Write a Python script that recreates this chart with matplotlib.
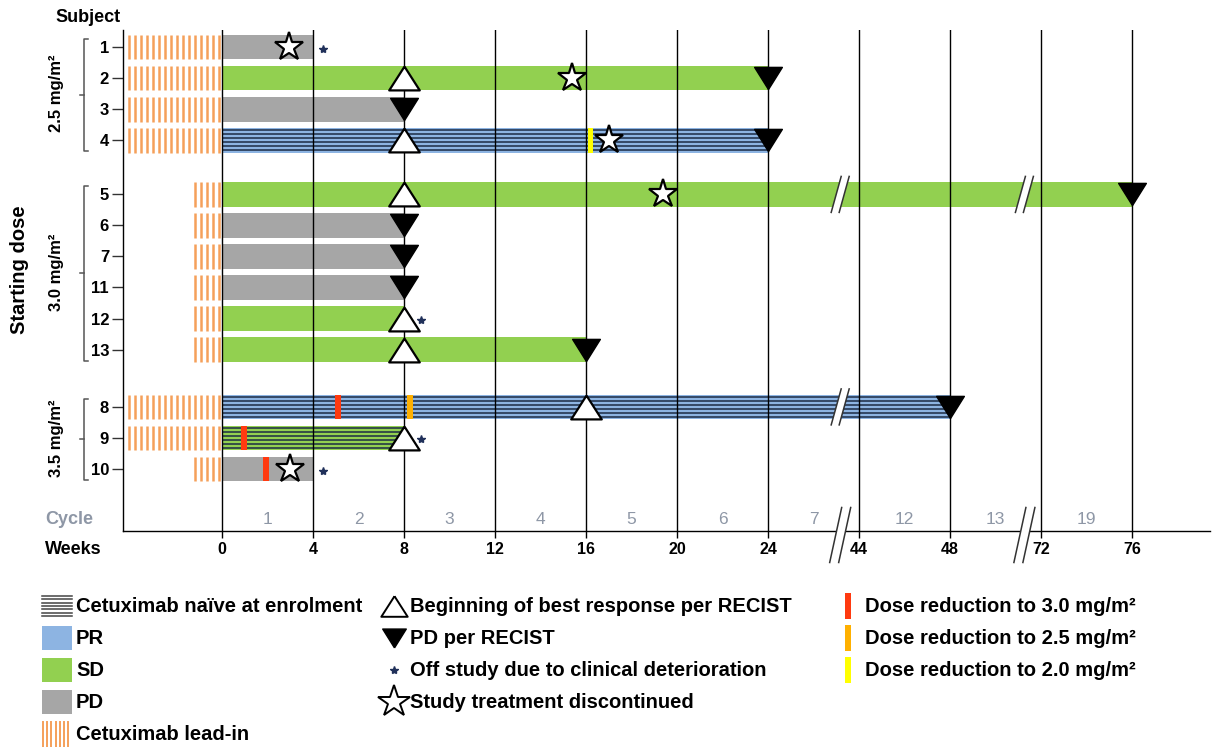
import numpy as np
import matplotlib
matplotlib.use('Agg')
import matplotlib.pyplot as plt
from matplotlib.patches import Polygon, Rectangle

plt.rcParams['font.family'] = ['Liberation Sans', 'DejaVu Sans']

# ---- data (weeks) ----
subjects = ['1', '2', '3', '4', '5', '6', '7', '11', '12', '13', '8', '9', '10']
rows = [0, 1, 2, 3, 4.75, 5.75, 6.75, 7.75, 8.75, 9.75, 11.6, 12.6, 13.6]
leadin_start = [-4.1, -4.1, -4.1, -4.1, -1.2, -1.2, -1.2, -1.2, -1.2, -1.2, -4.1, -4.1, -1.2]
bar_end = [4, 24, 8, 24, 76, 8, 8, 8, 8, 16, 48, 8, 4]
best_resp = ['PD', 'SD', 'PD', 'PR', 'SD', 'PD', 'PD', 'PD', 'SD', 'SD', 'PR', 'SD', 'PD']
naive = [0, 0, 0, 1, 0, 0, 0, 0, 0, 0, 1, 1, 0]
resp_start = [None, 8, None, 8, 8, None, None, None, 8, 8, 16, 8, None]
pd_week = [None, 24, 8, 24, 76, 8, 8, 8, None, 16, 48, None, None]
stop_week = [2.95, 15.4, None, 17.0, 19.4, None, None, None, None, None, None, None, 3.0]
off_study = [1, 0, 0, 0, 0, 0, 0, 0, 1, 0, 0, 1, 1]

dose_groups = ['2.5 mg/m²', '3.0 mg/m²', '3.5 mg/m²']
group_first = [0, 4, 10]
group_last = [3, 9, 12]

red_subject = ['4', '8', '8', '9', '10']
red_week = [16.2, 5.1, 8.26, 0.97, 1.93]
red_level = ['2.0', '3.0', '2.5', '3.0', '3.0']

week_ticks = [0, 4, 8, 12, 16, 20, 24, 44, 48, 72, 76]
cycle_labels = ['1', '2', '3', '4', '5', '6', '7', '12', '13', '19']
cycle_mid = [2, 6, 10, 14, 18, 22, 26, 46, 50, 74]
break_weeks = [35, 60]

resp_color = {'PR': '#8db4e2', 'SD': '#92d050', 'PD': '#a6a6a6'}
red_color = {'3.0': '#ff3a10', '2.5': '#ffb000', '2.0': '#ffff00'}
lead_color = '#f5a05a'
stripe_color = '#1c2b45'
cycle_color = '#8e97a6'

# broken time axis: 0-24 linear, gap, 44-48, gap, 72-76
kw = [-100, 27.15, 43.2, 51.25, 71.3, 200]
kd = [-100, 27.15, 27.2, 35.25, 35.3, 35.3 + 128.7]
fwd = lambda w: np.interp(w, kw, kd)
inv = lambda d: np.interp(d, kd, kw)

W, H = 1222, 747
fig = plt.figure(figsize=(W / 100, H / 100), dpi=100)
ax = fig.add_axes([123 / W, 1 - 531 / H, (1210 - 123) / W, (531 - 30) / H])
ax.set_xscale('function', functions=(fwd, inv))
ax.set_xlim(-4.35, 79.43)
ax.set_ylim(15.6, -0.55)

bh = 0.8
for i, r in enumerate(rows):
    # lead-in stripes
    xs = np.arange(-0.12, leadin_start[i], -0.264)
    ax.vlines(xs, r - bh / 2, r + bh / 2, color=lead_color, lw=1.8, zorder=2)
    ax.barh(r, bar_end[i], left=0, height=bh, color=resp_color[best_resp[i]],
            edgecolor='none', zorder=2)
    if naive[i]:
        for off in np.linspace(-0.33, 0.33, 6):
            ax.plot([0, bar_end[i]], [r + off, r + off], color=stripe_color,
                    lw=1.1, zorder=2.2, solid_capstyle='butt')

for s, w, lv in zip(red_subject, red_week, red_level):
    r = rows[subjects.index(s)]
    ax.barh(r, 0.24, left=w - 0.12, height=bh, color=red_color[lv], zorder=2.5)

for w in week_ticks:
    ax.axvline(w, color='black', lw=1, zorder=3)

tri_up = [(0, 0.78), (-1, -0.78), (1, -0.78), (0, 0.78)]
tri_dn = [(0, -0.8), (-1, 0.8), (1, 0.8), (0, -0.8)]
for i, r in enumerate(rows):
    if resp_start[i] is not None:
        ax.plot(resp_start[i], r, marker=tri_up, ms=22, mfc='white', mec='black',
                mew=1.6, zorder=5)
    if pd_week[i] is not None:
        ax.plot(pd_week[i], r, marker=tri_dn, ms=20, mfc='black', mec='black',
                mew=1, zorder=5)
    if stop_week[i] is not None:
        ax.plot(stop_week[i], r, marker='*', ms=21, mfc='white', mec='black',
                mew=1.6, zorder=6)
    if off_study[i]:
        off = 0.75 if resp_start[i] == bar_end[i] else 0.45
        ax.plot(bar_end[i] + off, r + 0.05, marker='*', ms=6, color='#20305a', zorder=6)

# cycle numbers
for c, m in zip(cycle_labels, cycle_mid):
    ax.text(m, 15.23, c, ha='center', va='center', fontsize=12.5, color=cycle_color)

ax.set_xticks(week_ticks)
ax.set_xticklabels([str(w) for w in week_ticks], fontsize=11.5, fontweight='bold')
ax.set_yticks(rows)
ax.set_yticklabels(subjects, fontsize=12, fontweight='bold')
ax.tick_params(axis='x', length=5, width=1, pad=3)
ax.tick_params(axis='y', length=8, width=1, color='#333333', pad=2)
ax.minorticks_off()
for sp in ['top', 'right']:
    ax.spines[sp].set_visible(False)
ax.spines['left'].set_linewidth(1)
ax.spines['bottom'].set_linewidth(1)

# ---- overlay in pixel coordinates ----
lay = fig.add_axes([0, 0, 1, 1])
lay.set_xlim(0, W)
lay.set_ylim(H, 0)
lay.set_axis_off()


def to_px(x, y):
    X, Y = ax.transData.transform((x, y))
    return X, H - Y


def break_mark(cx, cy, h, slant, gap):
    dx = slant / 2
    lay.add_patch(Polygon([(cx - gap / 2 - dx, cy + h / 2), (cx - gap / 2 + dx, cy - h / 2),
                           (cx + gap / 2 + dx, cy - h / 2), (cx + gap / 2 - dx, cy + h / 2)],
                          closed=True, fc='white', ec='none', zorder=7))
    for s in (-gap / 2, gap / 2):
        lay.plot([cx + s - dx, cx + s + dx], [cy + h / 2, cy - h / 2],
                 color='#333333', lw=1.1, zorder=8)


for bw in break_weeks:
    bx, _ = to_px(bw, 0)
    break_mark(bx, 535, 55, 12, 9)
    for i, r in enumerate(rows):
        if bar_end[i] > bw:
            _, by = to_px(bw, r)
            break_mark(bx, by, 36, 10, 8)

# group brackets and labels
for g, lab in enumerate(dose_groups):
    _, y0 = to_px(0, rows[group_first[g]])
    _, y1 = to_px(0, rows[group_last[g]])
    top, bot = y0 - 8, y1 + 11
    mid = (top + bot) / 2
    lay.plot([88, 84, 84, 88], [top, top, bot, bot], color='#555555', lw=1.1)
    lay.plot([84, 80], [mid, mid], color='#555555', lw=1.1)
    lay.text(57, (y0 + y1) / 2, lab, rotation=90, ha='center', va='center',
             fontsize=12, fontweight='bold')

lay.text(20, 270, 'Starting dose', rotation=90, ha='center', va='center',
         fontsize=14.5, fontweight='bold')
lay.text(55, 18, 'Subject', ha='left', va='center', fontsize=13, fontweight='bold')
lay.text(45, 519, 'Cycle', ha='left', va='center', fontsize=13, fontweight='bold',
         color=cycle_color)
lay.text(45, 549, 'Weeks', ha='left', va='center', fontsize=13, fontweight='bold')

# ---- legend ----
fs_leg = 14.5
col1 = ['Cetuximab naïve at enrolment', 'PR', 'SD', 'PD', 'Cetuximab lead-in']
col2 = ['Beginning of best response per RECIST', 'PD per RECIST',
        'Off study due to clinical deterioration', 'Study treatment discontinued']
col3 = ['Dose reduction to 3.0 mg/m²', 'Dose reduction to 2.5 mg/m²',
        'Dose reduction to 2.0 mg/m²']
leg_y = [606, 638, 670, 702, 734]

for k, txt in enumerate(col1):
    y = leg_y[k]
    if k == 0:
        for yy in np.linspace(y - 10, y + 10, 7):
            lay.plot([42, 72], [yy, yy], color='#444444', lw=1.1)
    elif k in (1, 2, 3):
        lay.add_patch(Rectangle((42, y - 12), 30, 24,
                                fc=resp_color[['PR', 'SD', 'PD'][k - 1]], ec='none'))
    else:
        for xx in np.arange(43, 72, 4.2):
            lay.plot([xx, xx], [y - 12, y + 13], color=lead_color, lw=1.4)
    lay.text(76, y, txt, ha='left', va='center', fontsize=fs_leg, fontweight='bold')

mk = [dict(marker=tri_up, ms=19, mfc='white', mec='black', mew=1.4),
      dict(marker=tri_dn, ms=17, mfc='black', mec='black'),
      dict(marker='*', ms=6, color='#20305a'),
      dict(marker='*', ms=24, mfc='white', mec='black', mew=1.4)]
for k, txt in enumerate(col2):
    y = leg_y[k]
    lay.plot(394, y, **mk[k])
    lay.text(410, y, txt, ha='left', va='center', fontsize=fs_leg, fontweight='bold')

for k, txt in enumerate(col3):
    y = leg_y[k]
    lay.add_patch(Rectangle((845, y - 13), 6, 26, fc=red_color[['3.0', '2.5', '2.0'][k]],
                            ec='none'))
    lay.text(865, y, txt, ha='left', va='center', fontsize=fs_leg, fontweight='bold')

fig.savefig('out.png', dpi=100)
